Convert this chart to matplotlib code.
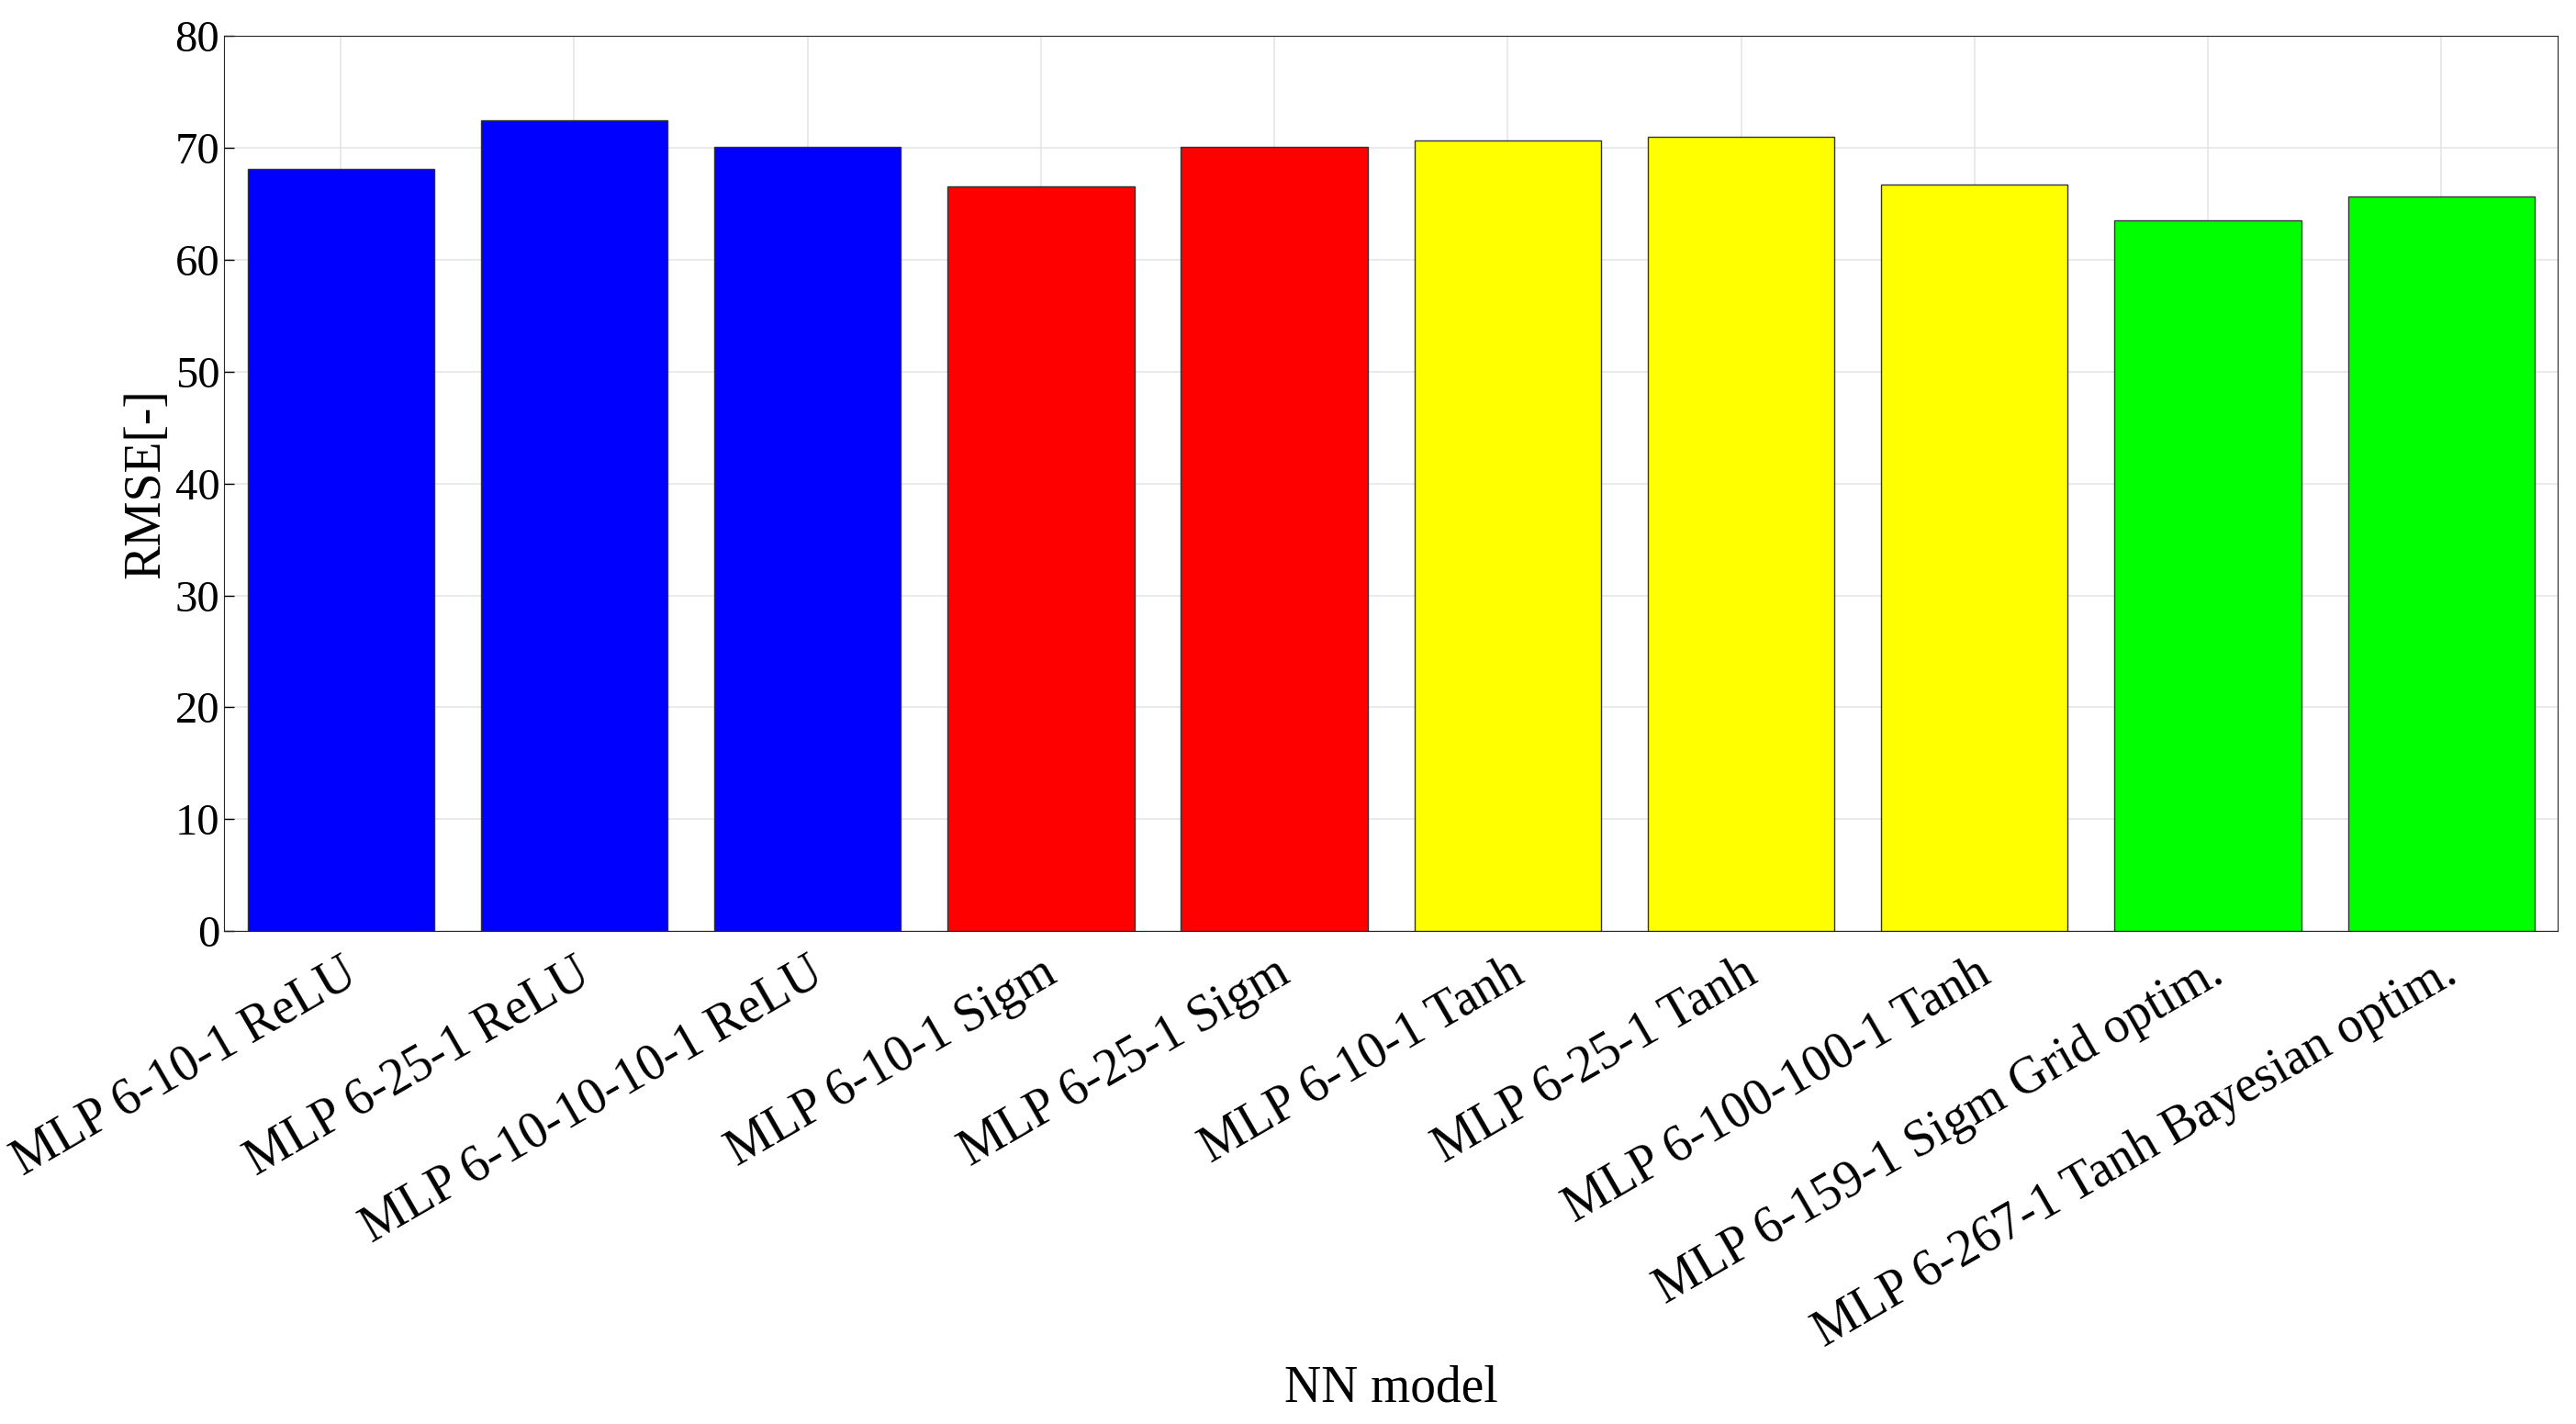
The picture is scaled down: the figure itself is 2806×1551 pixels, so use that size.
import numpy as np
import matplotlib.pyplot as plt

plt.rcParams['font.family'] = ['Liberation Serif', 'DejaVu Serif']
plt.rcParams['font.size'] = 35

models = ["MLP 6-10-1 ReLU", "MLP 6-25-1 ReLU", "MLP 6-10-10-10-1 ReLU",
          "MLP 6-10-1 Sigm", "MLP 6-25-1 Sigm", "MLP 6-10-1 Tanh",
          "MLP 6-25-1 Tanh", "MLP 6-100-100-1 Tanh",
          "MLP 6-159-1 Sigm Grid optim.", "MLP 6-267-1 Tanh Bayesian optim."]
rmse = [68.1, 72.4, 70.1, 66.5, 70.1, 70.6, 71.0, 66.7, 63.5, 65.6]
colors = ["#0000ff"] * 3 + ["#ff0000"] * 2 + ["#ffff00"] * 3 + ["#00ff00"] * 2

fig = plt.figure(figsize=(28.06, 15.51), dpi=100)
ax = fig.add_axes([0.087, 0.346, 0.906, 0.629])
x = np.arange(1, len(models) + 1)
ax.bar(x, rmse, width=0.8, color=colors, edgecolor="#333333", linewidth=1, zorder=3)
ax.set_xlim(0.5, len(models) + 0.5)
ax.set_ylim(0, 80)
ax.set_yticks(np.arange(0, 81, 10))
ax.set_xticks(x)
ax.set_xticklabels(models, rotation=30, ha="right", rotation_mode="anchor", fontsize=40)
ax.grid(True, color="#e6e6e6", linewidth=1.2, zorder=0)
ax.tick_params(direction="in", length=8, width=1)
ax.tick_params(axis="x", pad=14)
for s in ax.spines.values():
    s.set_color("#262626")
ax.set_ylabel("RMSE[-]", fontsize=40)
fig.text(0.54, 0.008, "NN model", ha="center", va="bottom", fontsize=40)
fig.savefig("out.png", dpi=100)
